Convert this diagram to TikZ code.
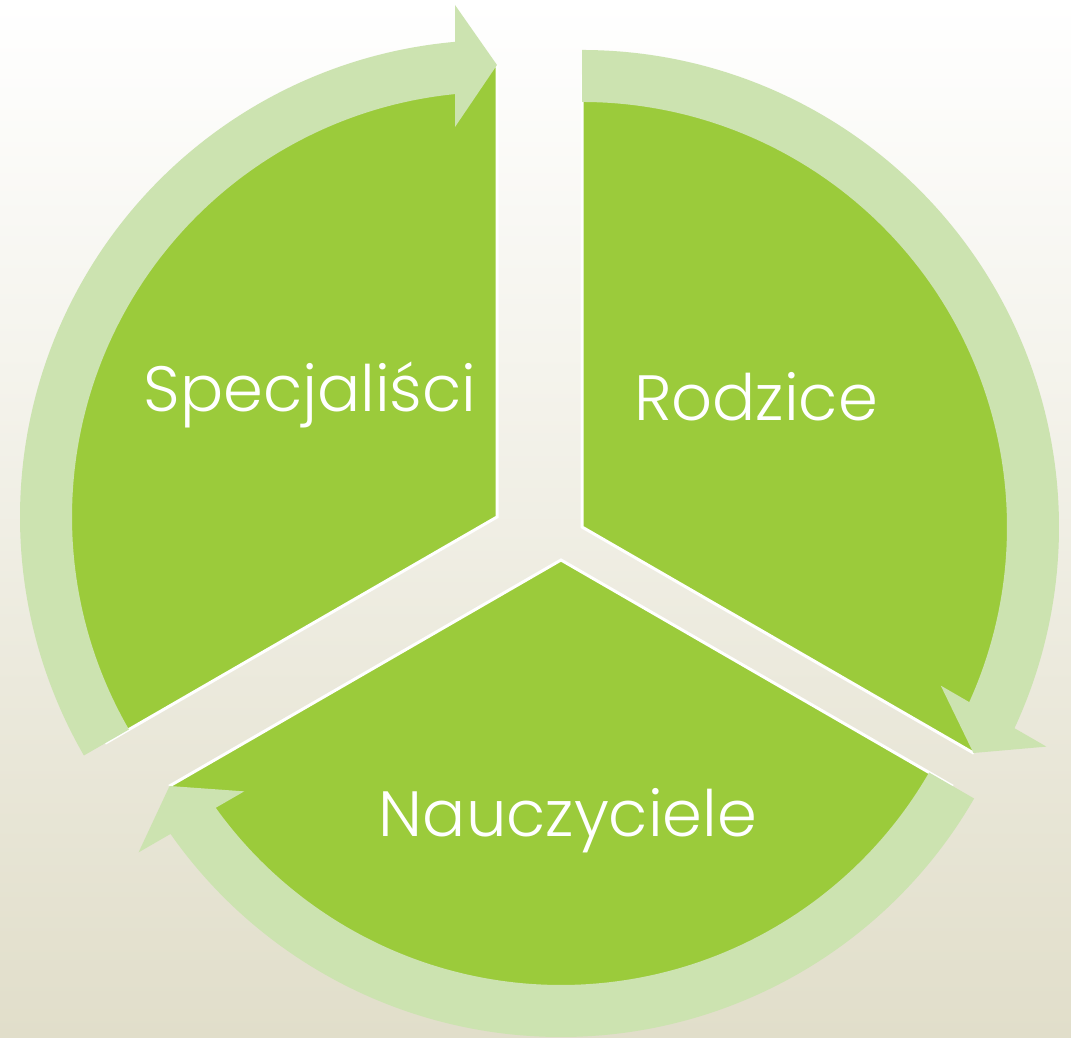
\documentclass[tikz,border=0pt]{standalone}
\usepackage{fontspec}
\setmainfont{Poppins}[UprightFont=* Light]
\usetikzlibrary{positioning}

\definecolor{leaf}{HTML}{9BCB3B}
\definecolor{pale}{HTML}{CCE3B0}
\definecolor{sand}{HTML}{E1DECA}

\begin{document}
\begin{tikzpicture}[
    x=0.5pt, y=0.5pt,
sector/.style = {fill=leaf, draw=white, line width=1.5pt, line join=miter},
band/.style   = {fill=pale},
tag/.style    = {text=white, anchor=base, inner sep=0pt,
                 font=\fontsize{32}{38}\selectfont}
                        ]
\fill[top color=white, bottom color=sand] (0,0) rectangle (1071,1038);
\useasboundingbox (0,0) rectangle (1071,1038);
%
\coordinate (c1) at (497,521);
\coordinate (c2) at (582,511);
\coordinate (c3) at (561,478);
% segments
\filldraw[sector] (c1) -- +(90:451)  arc[start angle=90,  end angle=210, radius=451] -- cycle;
\filldraw[sector] (c2) -- +(90:451)  arc[start angle=90,  end angle=-30, radius=451] -- cycle;
\filldraw[sector] (c3) -- +(-30:451) arc[start angle=-30, end angle=-150, radius=451] -- cycle;
% circular arrows
\foreach \c/\a in {c1/90, c2/-30, c3/-150}
    \fill[band, shift={(\c)}, rotate=\a]
        (120:477) arc[start angle=120, end angle=5.05, radius=477]
        -- (512,42) -- (452,0) -- (390,42) -- (5.67:425)
        arc[start angle=5.67, end angle=120, radius=425] -- cycle;
%
\node (spec) [tag] at (310,626) {Specjaliści};
\node (rodz) [tag] at (756,617) {Rodzice};
\node (nauc) [tag] at (568,201) {Nauczyciele};
\end{tikzpicture}
\end{document}
